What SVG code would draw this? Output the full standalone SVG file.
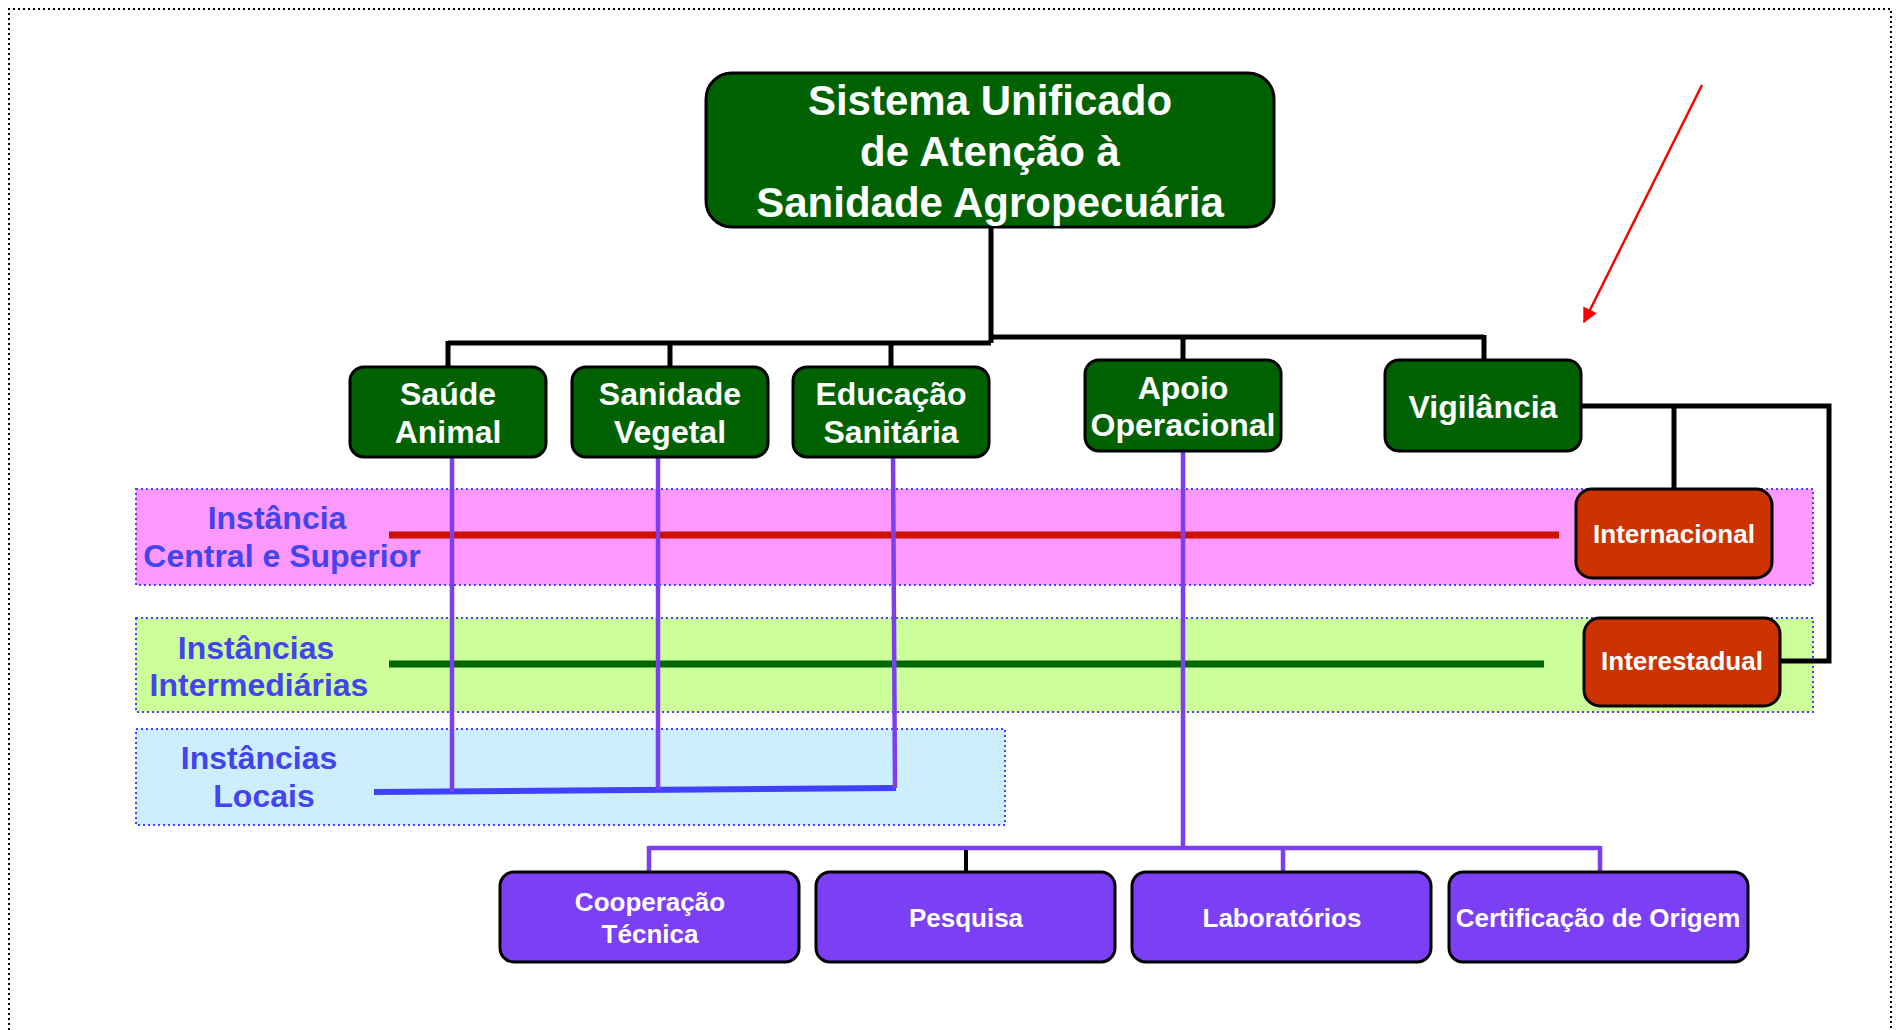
<svg xmlns="http://www.w3.org/2000/svg" width="1899" height="1030" viewBox="0 0 1899 1030">
<defs>
<style>
.g{fill:#006100;stroke:#000;stroke-width:3}
.r{fill:#cc3300;stroke:#000;stroke-width:3}
.p{fill:#7b3ff5;stroke:#000;stroke-width:3}
.t{font-family:"Liberation Sans",Arial,sans-serif;font-weight:bold;fill:#fff;text-anchor:middle}
.lb{font-family:"Liberation Sans",Arial,sans-serif;font-weight:bold;fill:#4444ee;text-anchor:middle;font-size:32px}
.band{stroke:#4444ff;stroke-width:2;stroke-dasharray:2 3}
.k{fill:none;stroke:#000;stroke-width:5}
.v{fill:none;stroke:#7b3ff0;stroke-width:4.5}
</style>
<marker id="ah" viewBox="0 0 10 10" refX="9" refY="5" markerWidth="6.5" markerHeight="6" orient="auto" markerUnits="strokeWidth">
<path d="M0,0 L10,5 L0,10 z" fill="#ff0000"/>
</marker>
</defs>
<rect width="1899" height="1030" fill="#fff"/>
<path d="M9,1035 V9 H1891 V1035" fill="none" stroke="#000" stroke-width="2" stroke-dasharray="2 3"/>

<g id="bands">
<rect class="band" x="136" y="489" width="1677" height="96" fill="#ff99ff"/>
<rect class="band" x="136" y="618" width="1677" height="94" fill="#ccff99"/>
<rect class="band" x="136" y="729" width="869" height="96" fill="#cceeff"/>
</g>

<g id="band-labels">
<text class="lb" x="277" y="529">Instância</text>
<text class="lb" x="282" y="567">Central e Superior</text>
<text class="lb" x="256" y="659">Instâncias</text>
<text class="lb" x="259" y="696">Intermediárias</text>
<text class="lb" x="259" y="769">Instâncias</text>
<text class="lb" x="264" y="807">Locais</text>
</g>

<g id="connectors">
<path class="k" d="M991,226 V343 M448,343 H991 M991,337 H1484 M448,341 V367 M670,341 V367 M891,341 V367 M1183,335 V360 M1484,335 V360"/>
<path class="k" d="M1581,406 H1829 V661 H1780 M1674,406 V489"/>
<line x1="389" y1="535" x2="1559" y2="535" stroke="#cc1100" stroke-width="7"/>
<line x1="389" y1="664" x2="1544" y2="664" stroke="#006600" stroke-width="7"/>
<line x1="374" y1="792" x2="896" y2="788" stroke="#4040ff" stroke-width="6"/>
<path class="v" d="M452,457 V792 M658,457 V790 M893,457 L895,788"/>
<path class="v" d="M1183,451 V848 M649,848 H1600 M649,846 V872 M1283,846 V872 M1600,846 V872"/>
<line x1="966" y1="850" x2="966" y2="872" stroke="#000" stroke-width="4"/>
<line x1="1702" y1="85" x2="1584" y2="322" stroke="#ff0000" stroke-width="2.5" marker-end="url(#ah)"/>
</g>

<g id="sistema">
<rect class="g" x="706" y="73" width="568" height="154" rx="26"/>
<text class="t" font-size="42" x="990" y="115">Sistema Unificado</text>
<text class="t" font-size="42" x="990" y="166">de Atenção à</text>
<text class="t" font-size="42" x="990" y="217">Sanidade Agropecuária</text>
</g>

<g id="saude-animal">
<rect class="g" x="350" y="367" width="196" height="90" rx="14"/>
<text class="t" font-size="32" x="448" y="405">Saúde</text>
<text class="t" font-size="32" x="448" y="443">Animal</text>
</g>
<g id="sanidade-vegetal">
<rect class="g" x="572" y="367" width="196" height="90" rx="14"/>
<text class="t" font-size="32" x="670" y="405">Sanidade</text>
<text class="t" font-size="32" x="670" y="443">Vegetal</text>
</g>
<g id="educacao-sanitaria">
<rect class="g" x="793" y="367" width="196" height="90" rx="14"/>
<text class="t" font-size="32" x="891" y="405">Educação</text>
<text class="t" font-size="32" x="891" y="443">Sanitária</text>
</g>
<g id="apoio-operacional">
<rect class="g" x="1085" y="360" width="196" height="91" rx="14"/>
<text class="t" font-size="32" x="1183" y="399">Apoio</text>
<text class="t" font-size="32" x="1183" y="436">Operacional</text>
</g>
<g id="vigilancia">
<rect class="g" x="1385" y="360" width="196" height="91" rx="14"/>
<text class="t" font-size="32" x="1483" y="418">Vigilância</text>
</g>

<g id="internacional">
<rect class="r" x="1576" y="489" width="196" height="89" rx="16"/>
<text class="t" font-size="26" x="1674" y="543">Internacional</text>
</g>
<g id="interestadual">
<rect class="r" x="1584" y="618" width="196" height="88" rx="16"/>
<text class="t" font-size="26" x="1682" y="670">Interestadual</text>
</g>

<g id="cooperacao-tecnica">
<rect class="p" x="500" y="872" width="299" height="90" rx="14"/>
<text class="t" font-size="26" x="650" y="911">Cooperação</text>
<text class="t" font-size="26" x="650" y="943">Técnica</text>
</g>
<g id="pesquisa">
<rect class="p" x="816" y="872" width="299" height="90" rx="14"/>
<text class="t" font-size="26" x="966" y="927">Pesquisa</text>
</g>
<g id="laboratorios">
<rect class="p" x="1132" y="872" width="299" height="90" rx="14"/>
<text class="t" font-size="26" x="1282" y="927">Laboratórios</text>
</g>
<g id="certificacao-origem">
<rect class="p" x="1449" y="872" width="299" height="90" rx="14"/>
<text class="t" font-size="26" x="1598" y="927">Certificação de Origem</text>
</g>
</svg>
